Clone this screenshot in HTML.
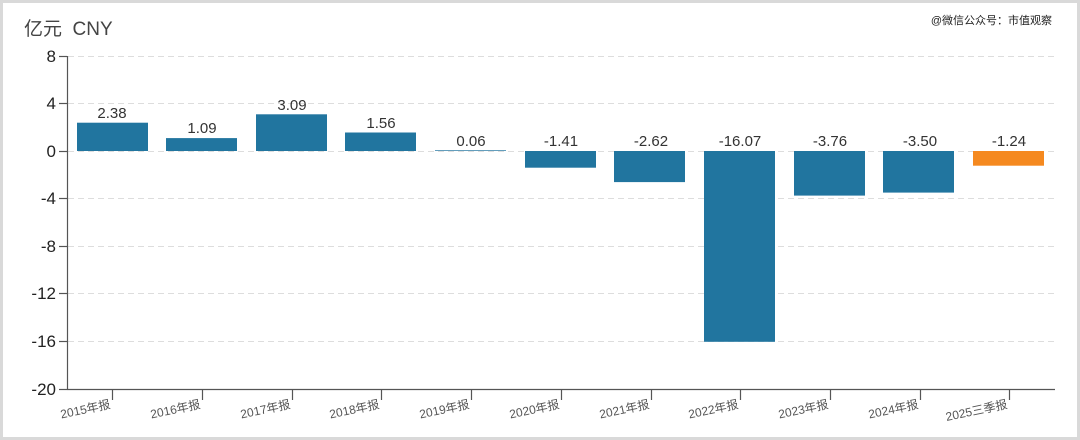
<!DOCTYPE html>
<html><head><meta charset="utf-8"><style>
html,body{margin:0;padding:0;background:#fff}
svg{display:block;font-family:"Liberation Sans","Noto Sans CJK SC",sans-serif}
</style></head><body>
<svg width="1080" height="440" viewBox="0 0 1080 440">
<rect x="1.5" y="1.5" width="1077" height="437" fill="#fff" stroke="#d9d9d9" stroke-width="3"/>
<text x="24" y="35" font-size="19" fill="#444">亿元&#160;&#160;CNY</text>
<text x="1052" y="24" font-size="11" fill="#222" text-anchor="end">@微信公众号：市值观察</text>
<g stroke="#ddd" stroke-dasharray="6,4" stroke-width="1">
<line x1="68" x2="1055" y1="56.5" y2="56.5"/>
<line x1="68" x2="1055" y1="103.5" y2="103.5"/>
<line x1="68" x2="1055" y1="151.5" y2="151.5"/>
<line x1="68" x2="1055" y1="198.5" y2="198.5"/>
<line x1="68" x2="1055" y1="246.5" y2="246.5"/>
<line x1="68" x2="1055" y1="293.5" y2="293.5"/>
<line x1="68" x2="1055" y1="341.5" y2="341.5"/>
</g>
<g fill="#21759f">
<rect x="77" y="122.7" width="71" height="28.3"/>
<rect x="166" y="138.1" width="71" height="12.9"/>
<rect x="256" y="114.3" width="71" height="36.7"/>
<rect x="345" y="132.5" width="71" height="18.5"/>
<rect x="435" y="150.3" width="71" height="0.7"/>
<rect x="525" y="151" width="71" height="16.7"/>
<rect x="614" y="151" width="71" height="31.1"/>
<rect x="704" y="151" width="71" height="190.8"/>
<rect x="794" y="151" width="71" height="44.6"/>
<rect x="883" y="151" width="71" height="41.6"/>
</g>
<rect x="973" y="151" width="71" height="14.7" fill="#f5891f"/>
<g font-size="15" fill="#333" text-anchor="middle">
<text x="112" y="118">2.38</text>
<text x="202" y="133">1.09</text>
<text x="292" y="110">3.09</text>
<text x="381" y="128">1.56</text>
<text x="471" y="146">0.06</text>
<text x="561" y="146">-1.41</text>
<text x="651" y="146">-2.62</text>
<text x="740" y="146">-16.07</text>
<text x="830" y="146">-3.76</text>
<text x="920" y="146">-3.50</text>
<text x="1009" y="146">-1.24</text>
</g>
<g stroke="#555" stroke-width="1.2" fill="none">
<line x1="67.5" y1="56" x2="67.5" y2="389"/>
<line x1="67" y1="389.5" x2="1055" y2="389.5"/>
<line x1="59" x2="67" y1="56.5" y2="56.5"/><line x1="59" x2="67" y1="103.5" y2="103.5"/>
<line x1="59" x2="67" y1="151.5" y2="151.5"/><line x1="59" x2="67" y1="198.5" y2="198.5"/>
<line x1="59" x2="67" y1="246.5" y2="246.5"/><line x1="59" x2="67" y1="293.5" y2="293.5"/>
<line x1="59" x2="67" y1="341.5" y2="341.5"/><line x1="59" x2="67" y1="389.5" y2="389.5"/>
<line x1="112.5" x2="112.5" y1="389" y2="400"/><line x1="202.5" x2="202.5" y1="389" y2="400"/>
<line x1="292.5" x2="292.5" y1="389" y2="400"/><line x1="381.5" x2="381.5" y1="389" y2="400"/>
<line x1="471.5" x2="471.5" y1="389" y2="400"/><line x1="561.5" x2="561.5" y1="389" y2="400"/>
<line x1="651.5" x2="651.5" y1="389" y2="400"/><line x1="740.5" x2="740.5" y1="389" y2="400"/>
<line x1="830.5" x2="830.5" y1="389" y2="400"/><line x1="920.5" x2="920.5" y1="389" y2="400"/>
<line x1="1009.5" x2="1009.5" y1="389" y2="400"/>
</g>
<g font-size="17" fill="#222" text-anchor="end">
<text x="56" y="62">8</text><text x="56" y="109">4</text><text x="56" y="157">0</text>
<text x="56" y="204">-4</text><text x="56" y="252">-8</text><text x="56" y="299">-12</text>
<text x="56" y="347">-16</text><text x="56" y="395">-20</text>
</g>
<g font-size="12" fill="#555" text-anchor="end">
<text transform="translate(111,408) rotate(-12)">2015年报</text>
<text transform="translate(201,408) rotate(-12)">2016年报</text>
<text transform="translate(291,408) rotate(-12)">2017年报</text>
<text transform="translate(380,408) rotate(-12)">2018年报</text>
<text transform="translate(470,408) rotate(-12)">2019年报</text>
<text transform="translate(560,408) rotate(-12)">2020年报</text>
<text transform="translate(650,408) rotate(-12)">2021年报</text>
<text transform="translate(739,408) rotate(-12)">2022年报</text>
<text transform="translate(829,408) rotate(-12)">2023年报</text>
<text transform="translate(919,408) rotate(-12)">2024年报</text>
<text transform="translate(1008,408) rotate(-12)">2025三季报</text>
</g>
</svg>
</body></html>
